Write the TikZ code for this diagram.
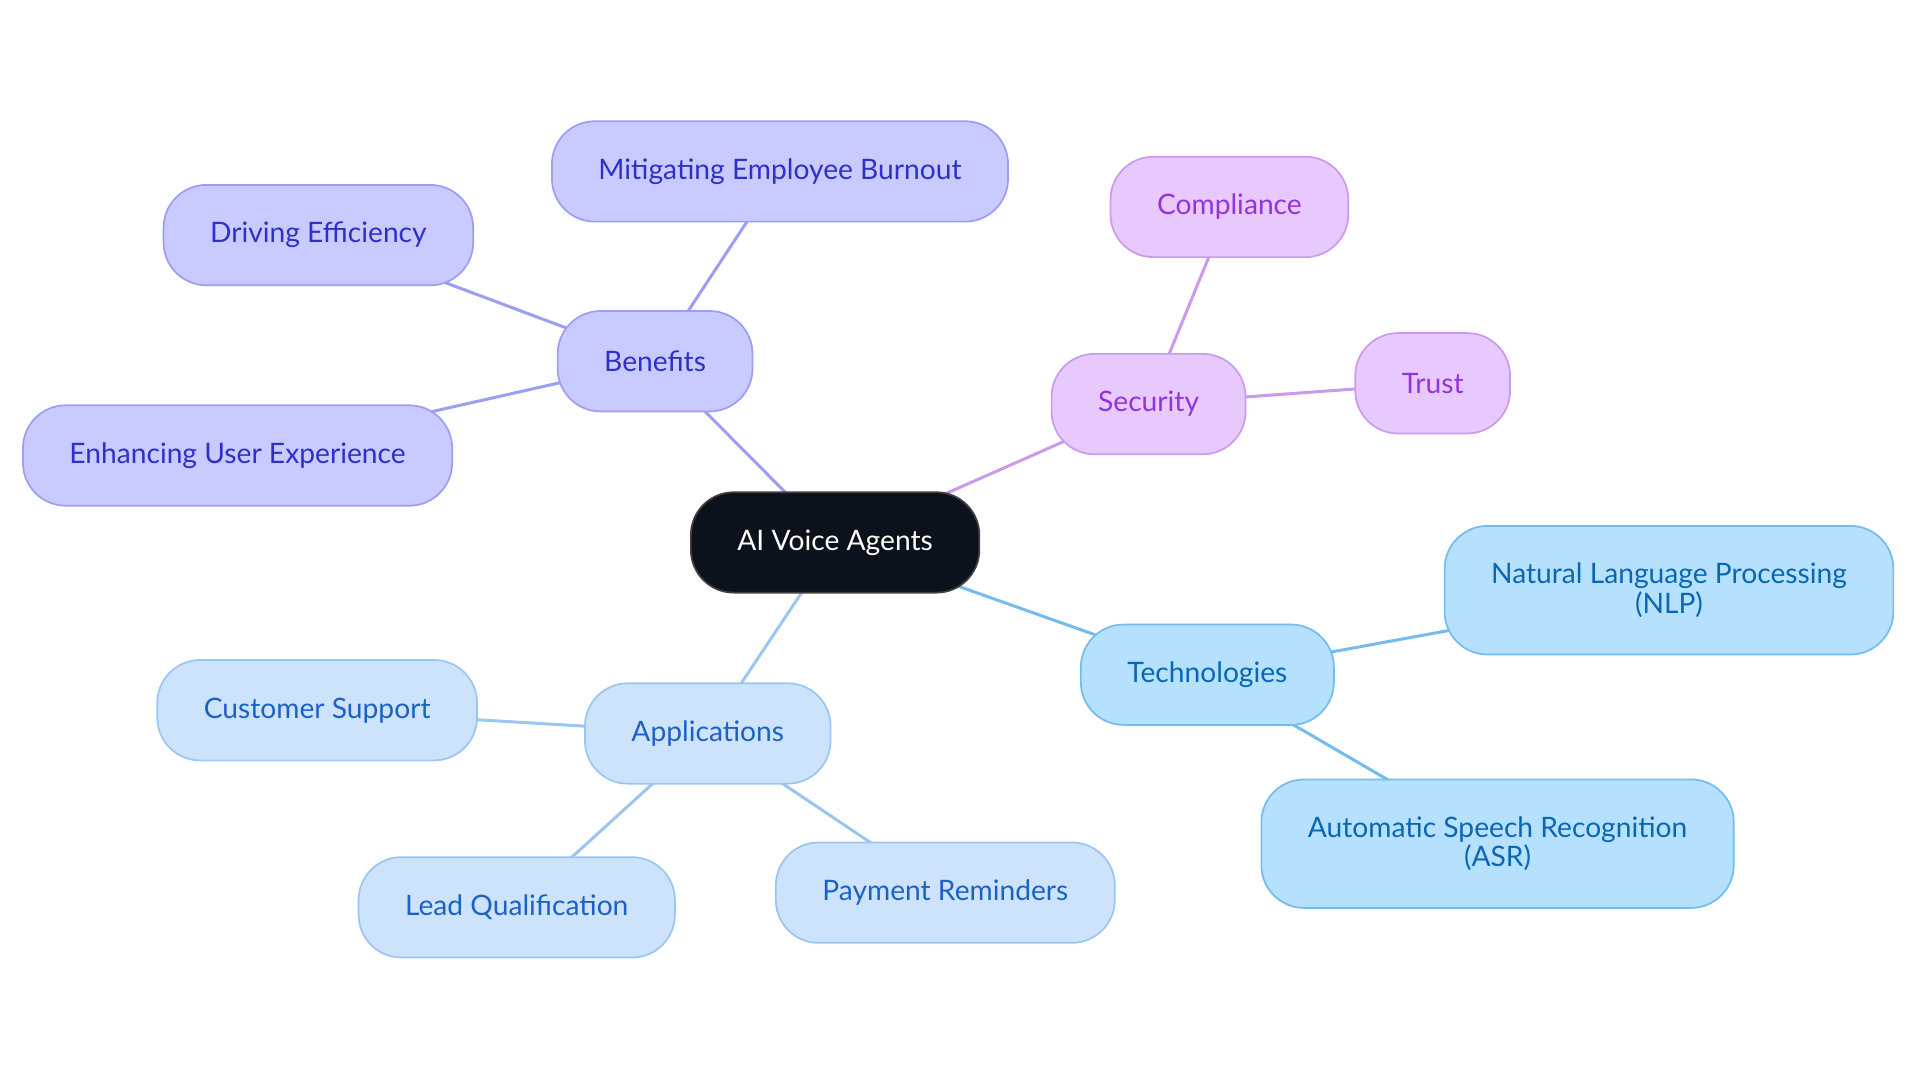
\documentclass[tikz,border=0pt]{standalone}
\usepackage{fontspec}
\setmainfont{Lato}
\usetikzlibrary{positioning, backgrounds}
\definecolor{benfill}{HTML}{C9CAFF}
\definecolor{benline}{HTML}{9C9EF3}
\definecolor{bentext}{HTML}{2E31C9}
\definecolor{secfill}{HTML}{E8C9FD}
\definecolor{secline}{HTML}{C99BEF}
\definecolor{sectext}{HTML}{9233DF}
\definecolor{tecfill}{HTML}{B5E0FE}
\definecolor{tecline}{HTML}{74BCEE}
\definecolor{tectext}{HTML}{0A67B5}
\definecolor{appfill}{HTML}{CDE3FB}
\definecolor{appline}{HTML}{9BC6F1}
\definecolor{apptext}{HTML}{1B62C6}
\definecolor{rootfill}{HTML}{0C121B}
\tikzset{
    topic/.style={
        draw, rounded corners = 0.7cm,
        minimum height = 1.64cm,
        inner xsep = 0.76cm,
        align = center,
        line width = 0.8pt,
        font = \fontsize{13.1}{13.6}\selectfont
    },
    twoline/.style = {minimum height = 2.1cm},
    benbox/.style = {topic, fill=benfill, draw=benline, text=bentext},
    secbox/.style = {topic, fill=secfill, draw=secline, text=sectext},
    tecbox/.style = {topic, fill=tecfill, draw=tecline, text=tectext},
    appbox/.style = {topic, fill=appfill, draw=appline, text=apptext},
    link/.style = {line width = 1.4pt}
}

\begin{document}
\begin{tikzpicture}[x=0.02cm, y=-0.02cm]

    \useasboundingbox (0,0) rectangle (1568,884.4);

    % Root
    \node[topic, fill=rootfill, draw=black!75, text=white] (root) at (682,443) {AI Voice Agents};

    % Benefits
    \node[benbox] (benefits) at (535,295) {Benefits};
    \node[benbox] (burnout) at (637,140) {Mitigating Employee Burnout};
    \node[benbox] (efficiency) at (260,192) {Driving Efficiency};
    \node[benbox] (experience) at (194,372) {Enhancing User Experience};

    % Security
    \node[secbox] (security) at (938,330) {Security};
    \node[secbox] (compliance) at (1004,169) {Compliance};
    \node[secbox] (trust) at (1170,313) {Trust};

    % Technologies
    \node[tecbox] (tech) at (986,551) {Technologies};
    \node[tecbox, twoline] (nlp) at (1363,482) {Natural Language Processing\\(NLP)};
    \node[tecbox, twoline] (asr) at (1223,689) {Automatic Speech Recognition\\(ASR)};

    % Applications
    \node[appbox] (apps) at (578,599) {Applications};
    \node[appbox] (support) at (259,580) {Customer Support};
    \node[appbox] (lead) at (422,741) {Lead Qualification};
    \node[appbox] (payment) at (772,729) {Payment Reminders};

    % Links
    \begin{scope}[on background layer]
        \draw[link, benline] (root.center) -- (benefits.center);
        \foreach \leaf in {burnout, efficiency, experience}
            \draw[link, benline] (benefits.center) -- (\leaf.center);
        \draw[link, secline] (root.center) -- (security.center);
        \foreach \leaf in {compliance, trust}
            \draw[link, secline] (security.center) -- (\leaf.center);
        \draw[link, tecline] (root.center) -- (tech.center);
        \foreach \leaf in {nlp, asr}
            \draw[link, tecline] (tech.center) -- (\leaf.center);
        \draw[link, appline] (root.center) -- (apps.center);
        \foreach \leaf in {support, lead, payment}
            \draw[link, appline] (apps.center) -- (\leaf.center);
    \end{scope}

\end{tikzpicture}
\end{document}
